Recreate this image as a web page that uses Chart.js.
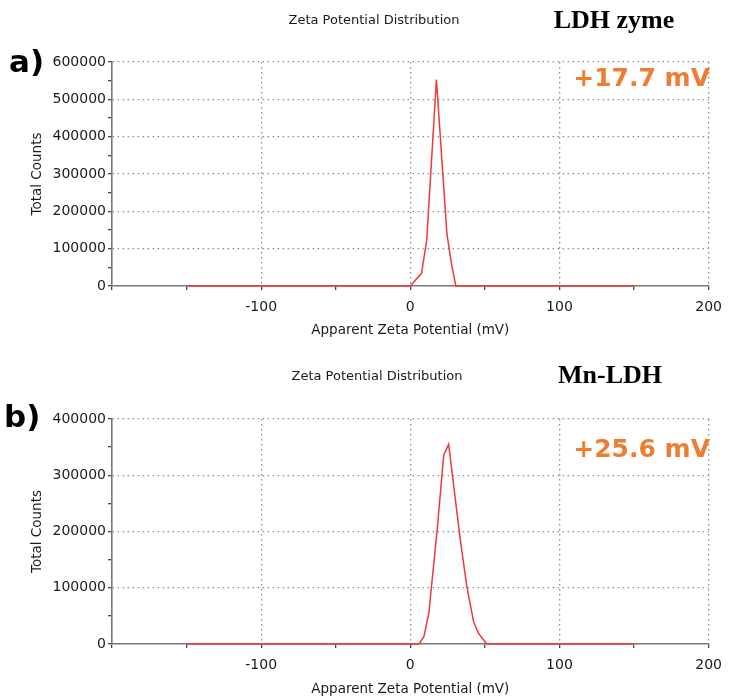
<!DOCTYPE html>
<html>
<head>
<meta charset="utf-8">
<script src="https://cdn.jsdelivr.net/npm/chart.js@4.4.0/dist/chart.umd.min.js"></script>
<style>
  body { margin: 0; background: #fff; }
  #wrap { position: relative; width: 731px; height: 699px; }
  canvas { position: absolute; left: 0; }
  #chartA { top: 0; }
  #chartB { top: 345px; }
</style>
</head>
<body>
<div id="wrap">
  <canvas id="chartA" width="731" height="345"></canvas>
  <canvas id="chartB" width="731" height="354"></canvas>
</div>
<script>
// x axis (mV)
const xTickLabels = [-100, 0, 100, 200];

// a) LDH zyme
const zetaA = [-150, 0, 7.5, 11, 17.5, 24.5, 27.5, 30.5, 150];
const countsA = [0, 0, 34000, 123000, 553000, 141000, 61000, 0, 0];
const yTickLabelsA = [0, 100000, 200000, 300000, 400000, 500000, 600000];

// b) Mn-LDH
const zetaB = [-150, 5.8, 9.1, 12.4, 18, 22.4, 25.7, 33.5, 37.9, 42.4, 45.7, 51.2, 150];
const countsB = [0, 0, 13000, 55000, 203000, 336000, 355000, 185000, 102000, 40000, 19000, 0, 0];
const yTickLabelsB = [0, 100000, 200000, 300000, 400000];

const DOT = '#8c8c8c';
const AXIS = '#777';
const NONE = 'rgba(0,0,0,0)';
const tickFont = { family: 'DejaVu Sans', size: 14 };
const titleFont = { family: 'DejaVu Sans', size: 13.5 };

const panelText = {
    id: 'panelText',
    afterDraw(chart, args, opts) {
        const ctx = chart.ctx;
        ctx.save();
        ctx.textBaseline = 'middle';
        opts.items.forEach(t => {
            ctx.font = t.font;
            ctx.fillStyle = t.color;
            ctx.textAlign = t.align;
            ctx.fillText(t.text, t.x, t.y);
        });
        ctx.restore();
    }
};

function makeChart(id, xs, ys, yLabels, lay, texts) {
    const yMax = yLabels[yLabels.length - 1];
    return new Chart(document.getElementById(id), {
        type: 'line',
        data: {
            datasets: [{
                data: xs.map((x, i) => ({ x: x, y: ys[i] })),
                borderColor: '#ee3a3a',
                borderWidth: 1.5,
                pointRadius: 0,
                tension: 0,
                fill: false,
                clip: false
            }]
        },
        options: {
            responsive: false,
            animation: false,
            layout: { padding: { top: lay.top, right: 18, left: 0, bottom: 0 } },
            plugins: {
                legend: { display: false },
                tooltip: { enabled: false },
                panelText: { items: texts }
            },
            scales: {
                x: {
                    type: 'linear', min: -200, max: 200,
                    ticks: {
                        stepSize: 50, autoSkip: false, maxRotation: 0, padding: 9,
                        color: '#1a1a1a', font: tickFont,
                        callback: v => xTickLabels.includes(v) ? String(v) : ''
                    },
                    grid: {
                        color: c => (c.tick && xTickLabels.includes(c.tick.value)) ? DOT : NONE,
                        lineWidth: 1.3, tickColor: '#444', tickWidth: 1.3, tickLength: 4, tickBorderDash: []
                    },
                    border: { display: true, color: AXIS, width: 1.6, dash: [1.5, 3.5] },
                    title: {
                        display: true, text: 'Apparent Zeta Potential (mV)', color: '#1a1a1a',
                        font: titleFont, padding: { top: 0, bottom: lay.titlePad }
                    },
                    afterFit: s => { s.height = lay.xHeight; }
                },
                y: {
                    min: 0, max: yMax,
                    ticks: {
                        stepSize: 50000, autoSkip: false, maxTicksLimit: 20, padding: 2,
                        color: '#1a1a1a', font: tickFont,
                        callback: v => yLabels.includes(v) ? String(v) : ''
                    },
                    grid: {
                        color: c => (c.tick && c.tick.value !== 0 && yLabels.includes(c.tick.value)) ? DOT : NONE,
                        lineWidth: 1.3, tickColor: '#444', tickWidth: 1.3, tickLength: 4, tickBorderDash: []
                    },
                    border: { display: true, color: AXIS, width: 1.6, dash: [1.5, 3.5] },
                    title: {
                        display: true, text: 'Total Counts', color: '#1a1a1a',
                        font: titleFont, padding: { top: 29, bottom: 0 }
                    },
                    afterFit: s => { s.width = 112; }
                }
            }
        },
        plugins: [panelText]
    });
}

makeChart('chartA', zetaA, countsA, yTickLabelsA,
    { top: 62, xHeight: 59, titlePad: 6 },
    [
        { text: 'Zeta Potential Distribution', x: 374, y: 21, font: '13px "DejaVu Sans"', color: '#1a1a1a', align: 'center' },
        { text: 'LDH zyme', x: 614, y: 21, font: 'bold 26px "Liberation Serif"', color: '#000', align: 'center' },
        { text: 'a)', x: 9, y: 64, font: 'bold 31px "DejaVu Sans"', color: '#000', align: 'left' },
        { text: '+17.7 mV', x: 710, y: 79, font: 'bold 25px "DejaVu Sans"', color: '#ED7D31', align: 'right' }
    ]);

makeChart('chartB', zetaB, countsB, yTickLabelsB,
    { top: 74, xHeight: 55, titlePad: 1 },
    [
        { text: 'Zeta Potential Distribution', x: 377, y: 32, font: '13px "DejaVu Sans"', color: '#1a1a1a', align: 'center' },
        { text: 'Mn-LDH', x: 610, y: 31, font: 'bold 26px "Liberation Serif"', color: '#000', align: 'center' },
        { text: 'b)', x: 4, y: 74, font: 'bold 31px "DejaVu Sans"', color: '#000', align: 'left' },
        { text: '+25.6 mV', x: 710, y: 105, font: 'bold 25px "DejaVu Sans"', color: '#ED7D31', align: 'right' }
    ]);
</script>
</body>
</html>
